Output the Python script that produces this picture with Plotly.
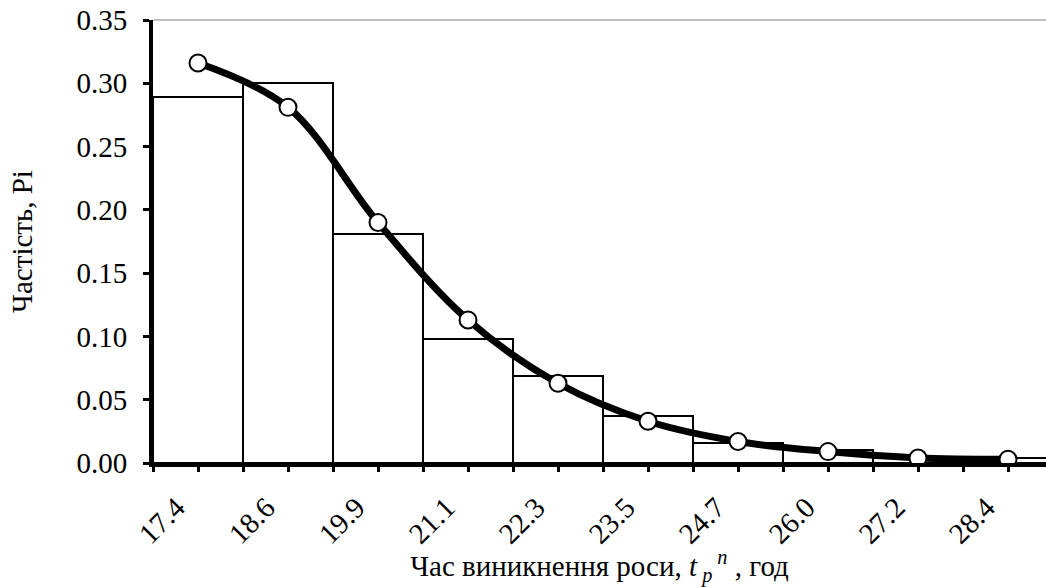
import plotly.graph_objects as go

categories = ["17.4", "18.6", "19.9", "21.1", "22.3", "23.5", "24.7", "26.0", "27.2", "28.4"]
bar_values = [0.289, 0.300, 0.181, 0.098, 0.069, 0.037, 0.016, 0.010, 0.004, 0.004]
curve_values = [0.316, 0.281, 0.190, 0.113, 0.063, 0.033, 0.017, 0.009, 0.004, 0.003]
y_ticks = [0.00, 0.05, 0.10, 0.15, 0.20, 0.25, 0.30, 0.35]

FONT = "'Liberation Serif', 'Times New Roman', serif"
FS = 29
idx = list(range(len(categories)))
label_shift = 0.24  # rotated labels sit slightly left of their tick

fig = go.Figure()
fig.add_trace(go.Bar(
    x=idx, y=bar_values, width=1.0,
    marker=dict(color="white", line=dict(color="black", width=2)),
    showlegend=False, hoverinfo="skip",
))
fig.add_trace(go.Scatter(
    x=idx, y=curve_values, mode="lines+markers",
    line=dict(color="black", width=7, shape="spline", smoothing=1.0),
    marker=dict(size=17, color="white", line=dict(color="black", width=2)),
    showlegend=False,
))

tick_marks = [i - 0.5 for i in idx] + idx + [len(idx) - 0.5]

fig.update_layout(
    width=1046, height=587,
    margin=dict(l=153, r=0, t=20, b=124),
    paper_bgcolor="white", plot_bgcolor="white",
    font=dict(family=FONT, size=FS, color="black"),
    bargap=0,
    xaxis=dict(
        range=[-0.5, -0.5 + 893 / 90],
        tickvals=[i - label_shift for i in idx], ticktext=categories, tickangle=-45,
        ticks="outside", ticklen=0, tickwidth=0, tickcolor="black",
        minor=dict(tickvals=sorted(tick_marks), ticks="outside", ticklen=5,
                   tickwidth=3, tickcolor="black", showgrid=False),
        showline=True, linecolor="black", linewidth=4,
        showgrid=False, zeroline=False,
        ticklabelstandoff=12,
        tickfont=dict(family=FONT, size=FS),
        title=dict(
            text="Час виникнення роси, <i>t</i><sub> <i>p</i></sub><sup> <i>n</i></sup> , год",
            font=dict(family=FONT, size=FS), standoff=0,
        ),
    ),
    yaxis=dict(
        range=[0, 0.35],
        tickvals=y_ticks, ticktext=[f"{v:.2f}" for v in y_ticks],
        ticks="outside", ticklen=6, tickwidth=3, tickcolor="black",
        showline=True, linecolor="black", linewidth=4,
        showgrid=False, zeroline=False,
        ticklabelstandoff=10,
        tickfont=dict(family=FONT, size=FS),
        title=dict(text="Частість, Pi", font=dict(family=FONT, size=FS), standoff=36),
    ),
    shapes=[dict(type="line", xref="paper", yref="paper", x0=0, x1=1, y0=1, y1=1,
                 line=dict(color="#808080", width=1))],
)

fig.write_html("out.html")
